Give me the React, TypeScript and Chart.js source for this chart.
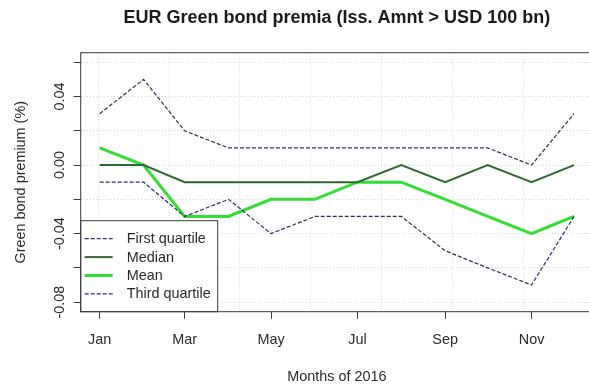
import React, { useEffect, useRef } from "react";
import { Chart, registerables } from "chart.js";

Chart.register(...registerables);

// ---- data ----
const months = ["Jan", "Feb", "Mar", "Apr", "May", "Jun", "Jul", "Aug", "Sep", "Oct", "Nov", "Dec"];
// day of year 2016 for the first day of each month
const monthStartDay = [0, 31, 60, 91, 121, 152, 182, 213, 244, 274, 305, 335];
const firstQuartile = [-0.01, -0.01, -0.03, -0.02, -0.04, -0.03, -0.03, -0.03, -0.05, -0.06, -0.07, -0.03];
const median = [0, 0, -0.01, -0.01, -0.01, -0.01, -0.01, 0, -0.01, 0, -0.01, 0];
const mean = [0.01, 0, -0.03, -0.03, -0.02, -0.02, -0.01, -0.01, -0.02, -0.03, -0.04, -0.03];
const thirdQuartile = [0.03, 0.05, 0.02, 0.01, 0.01, 0.01, 0.01, 0.01, 0.01, 0.01, 0, 0.03];

const xTickMonths = ["Jan", "Mar", "May", "Jul", "Sep", "Nov"];
const xGridDays = [-1, 49, 99, 149, 199, 249, 299, 349];
const yTicks = [-0.08, -0.06, -0.04, -0.02, 0, 0.02, 0.04, 0.06];
const yLabelled = [-0.08, -0.04, 0, 0.04];
const yLimits = [-0.08, 0.06];

const titleText = "EUR Green bond premia (Iss. Amnt > USD 100 bn)";
const xTitle = "Months of 2016";
const yTitle = "Green bond premium (%)";
const legendLabels = ["First quartile", "Median", "Mean", "Third quartile"];

const FONT = "'Liberation Sans', Arial, Helvetica, sans-serif";
const TEXT = "#2a2a2a";
const GRID = "#d8d8d8";
const DASH_COL = "#2e2e6a";
const MEDIAN_COL = "#2f6a2f";
const MEAN_COL = "#33dd33";

const pts = (vals: number[]) => vals.map((v, i) => ({ x: monthStartDay[i], y: v }));

export default function App() {
  const ref = useRef<HTMLCanvasElement | null>(null);

  useEffect(() => {
    if (!ref.current) return;
    Chart.defaults.font.family = FONT;

    const span = monthStartDay[monthStartDay.length - 1] - monthStartDay[0];
    const xMin = monthStartDay[0] - 0.04 * span;
    const xMax = monthStartDay[monthStartDay.length - 1] + 0.04 * span;
    const ySpan = yLimits[1] - yLimits[0];
    const yMin = yLimits[0] - 0.04 * ySpan;
    const yMax = yLimits[1] + 0.04 * ySpan;

    const legendPlugin = {
      id: "rLegend",
      afterDatasetsDraw(chart: any) {
        const ctx = chart.ctx;
        const { left, bottom } = chart.chartArea;
        const w = 137;
        const h = 91;
        const top = bottom - h;
        ctx.save();
        ctx.fillStyle = "#ffffff";
        ctx.fillRect(left, top, w, h);
        ctx.strokeStyle = "#3a3a3a";
        ctx.lineWidth = 1;
        ctx.strokeRect(left, top, w, h);
        ctx.font = `14.4px ${FONT}`;
        ctx.textBaseline = "middle";
        ctx.textAlign = "left";
        chart.data.datasets.forEach((ds: any, i: number) => {
          const y = top + 18 + i * 18.4;
          ctx.beginPath();
          ctx.strokeStyle = ds.borderColor;
          ctx.lineWidth = ds.borderWidth;
          ctx.setLineDash(ds.borderDash || []);
          ctx.moveTo(left + 4, y);
          ctx.lineTo(left + 32, y);
          ctx.stroke();
          ctx.setLineDash([]);
          ctx.fillStyle = TEXT;
          ctx.fillText(legendLabels[i], left + 46, y + 0.5);
        });
        ctx.restore();
      },
    };

    const framePlugin = {
      id: "rFrame",
      afterDraw(chart: any) {
        const ctx = chart.ctx;
        const { left, right, top, bottom } = chart.chartArea;
        ctx.save();
        ctx.strokeStyle = "#3a3a3a";
        ctx.lineWidth = 1;
        ctx.strokeRect(left, top, right - left, bottom - top);
        const ys = chart.scales.y;
        ctx.fillStyle = TEXT;
        ctx.font = `14.4px ${FONT}`;
        ctx.textAlign = "center";
        ctx.textBaseline = "middle";
        yLabelled.forEach((v) => {
          const py = ys.getPixelForValue(v);
          ctx.save();
          ctx.translate(left - 21, py);
          ctx.rotate(-Math.PI / 2);
          ctx.fillText(v.toFixed(2), 0, 0);
          ctx.restore();
        });
        ctx.restore();
      },
    };

    const dashed = { borderColor: DASH_COL, borderWidth: 1.2, borderDash: [4, 2] };

    const chart = new Chart(ref.current, {
      type: "line",
      data: {
        datasets: [
          { label: legendLabels[0], data: pts(firstQuartile), ...dashed },
          { label: legendLabels[1], data: pts(median), borderColor: MEDIAN_COL, borderWidth: 2 },
          { label: legendLabels[2], data: pts(mean), borderColor: MEAN_COL, borderWidth: 3 },
          { label: legendLabels[3], data: pts(thirdQuartile), ...dashed },
        ],
      },
      options: {
        responsive: false,
        animation: false,
        events: [],
        elements: { point: { radius: 0 }, line: { tension: 0, fill: false } },
        layout: { padding: { left: 0, right: 7, top: 0, bottom: 0 } },
        plugins: {
          legend: { display: false },
          tooltip: { enabled: false },
          title: {
            display: true,
            text: titleText,
            fullSize: false,
            color: "#1a1a1a",
            font: { size: 18, weight: "bold", family: FONT },
            padding: { top: 7.5, bottom: 23.6 },
          },
        },
        scales: {
          x: {
            type: "linear",
            position: "bottom",
            min: xMin,
            max: xMax,
            afterBuildTicks: (s: any) => {
              s.ticks = xTickMonths.map((m) => ({ value: monthStartDay[months.indexOf(m)] }));
            },
            afterFit: (s: any) => {
              s.height = 75.3;
            },
            ticks: {
              autoSkip: false,
              maxRotation: 0,
              minRotation: 0,
              padding: 13,
              color: TEXT,
              font: { size: 14.4, family: FONT },
              callback: (v: any) => {
                const i = monthStartDay.indexOf(Number(v));
                return i >= 0 ? months[i] : "";
              },
            },
            grid: { drawOnChartArea: false, drawTicks: true, tickLength: 7, tickColor: "#3a3a3a", tickWidth: 1 },
            border: { display: false },
            title: {
              display: true,
              text: xTitle,
              color: TEXT,
              font: { size: 14.4, family: FONT },
              padding: { top: 0, bottom: 1 },
            },
          },
          xg: {
            type: "linear",
            position: "bottom",
            min: xMin,
            max: xMax,
            z: 1,
            afterBuildTicks: (s: any) => {
              s.ticks = xGridDays.map((v) => ({ value: v }));
            },
            afterFit: (s: any) => {
              s.height = 0;
            },
            ticks: { display: false },
            grid: { drawTicks: false, color: GRID, lineWidth: 1 },
            border: { display: false, dash: [1, 2] },
          },
          y: {
            type: "linear",
            position: "left",
            min: yMin,
            max: yMax,
            z: 1,
            afterBuildTicks: (s: any) => {
              s.ticks = yTicks.map((v) => ({ value: v }));
            },
            afterFit: (s: any) => {
              s.width = 80.7;
            },
            ticks: { display: false },
            grid: {
              color: GRID,
              lineWidth: 1,
              drawTicks: true,
              tickLength: 7,
              tickColor: "#3a3a3a",
              tickWidth: 1,
              tickBorderDash: [],
            },
            border: { display: false, dash: [1, 2] },
            title: {
              display: true,
              text: yTitle,
              color: TEXT,
              font: { size: 14.4, family: FONT },
              padding: { top: 12, bottom: 0 },
            },
          },
        },
      },
      plugins: [legendPlugin, framePlugin],
    } as any);

    return () => chart.destroy();
  }, []);

  return (
    <div
      style={{
        position: "fixed",
        left: 0,
        top: 0,
        width: 589,
        height: 387,
        overflow: "hidden",
        background: "#ffffff",
      }}
    >
      <canvas ref={ref} width={600} height={387} style={{ display: "block", width: 600, height: 387 }} />
    </div>
  );
}
